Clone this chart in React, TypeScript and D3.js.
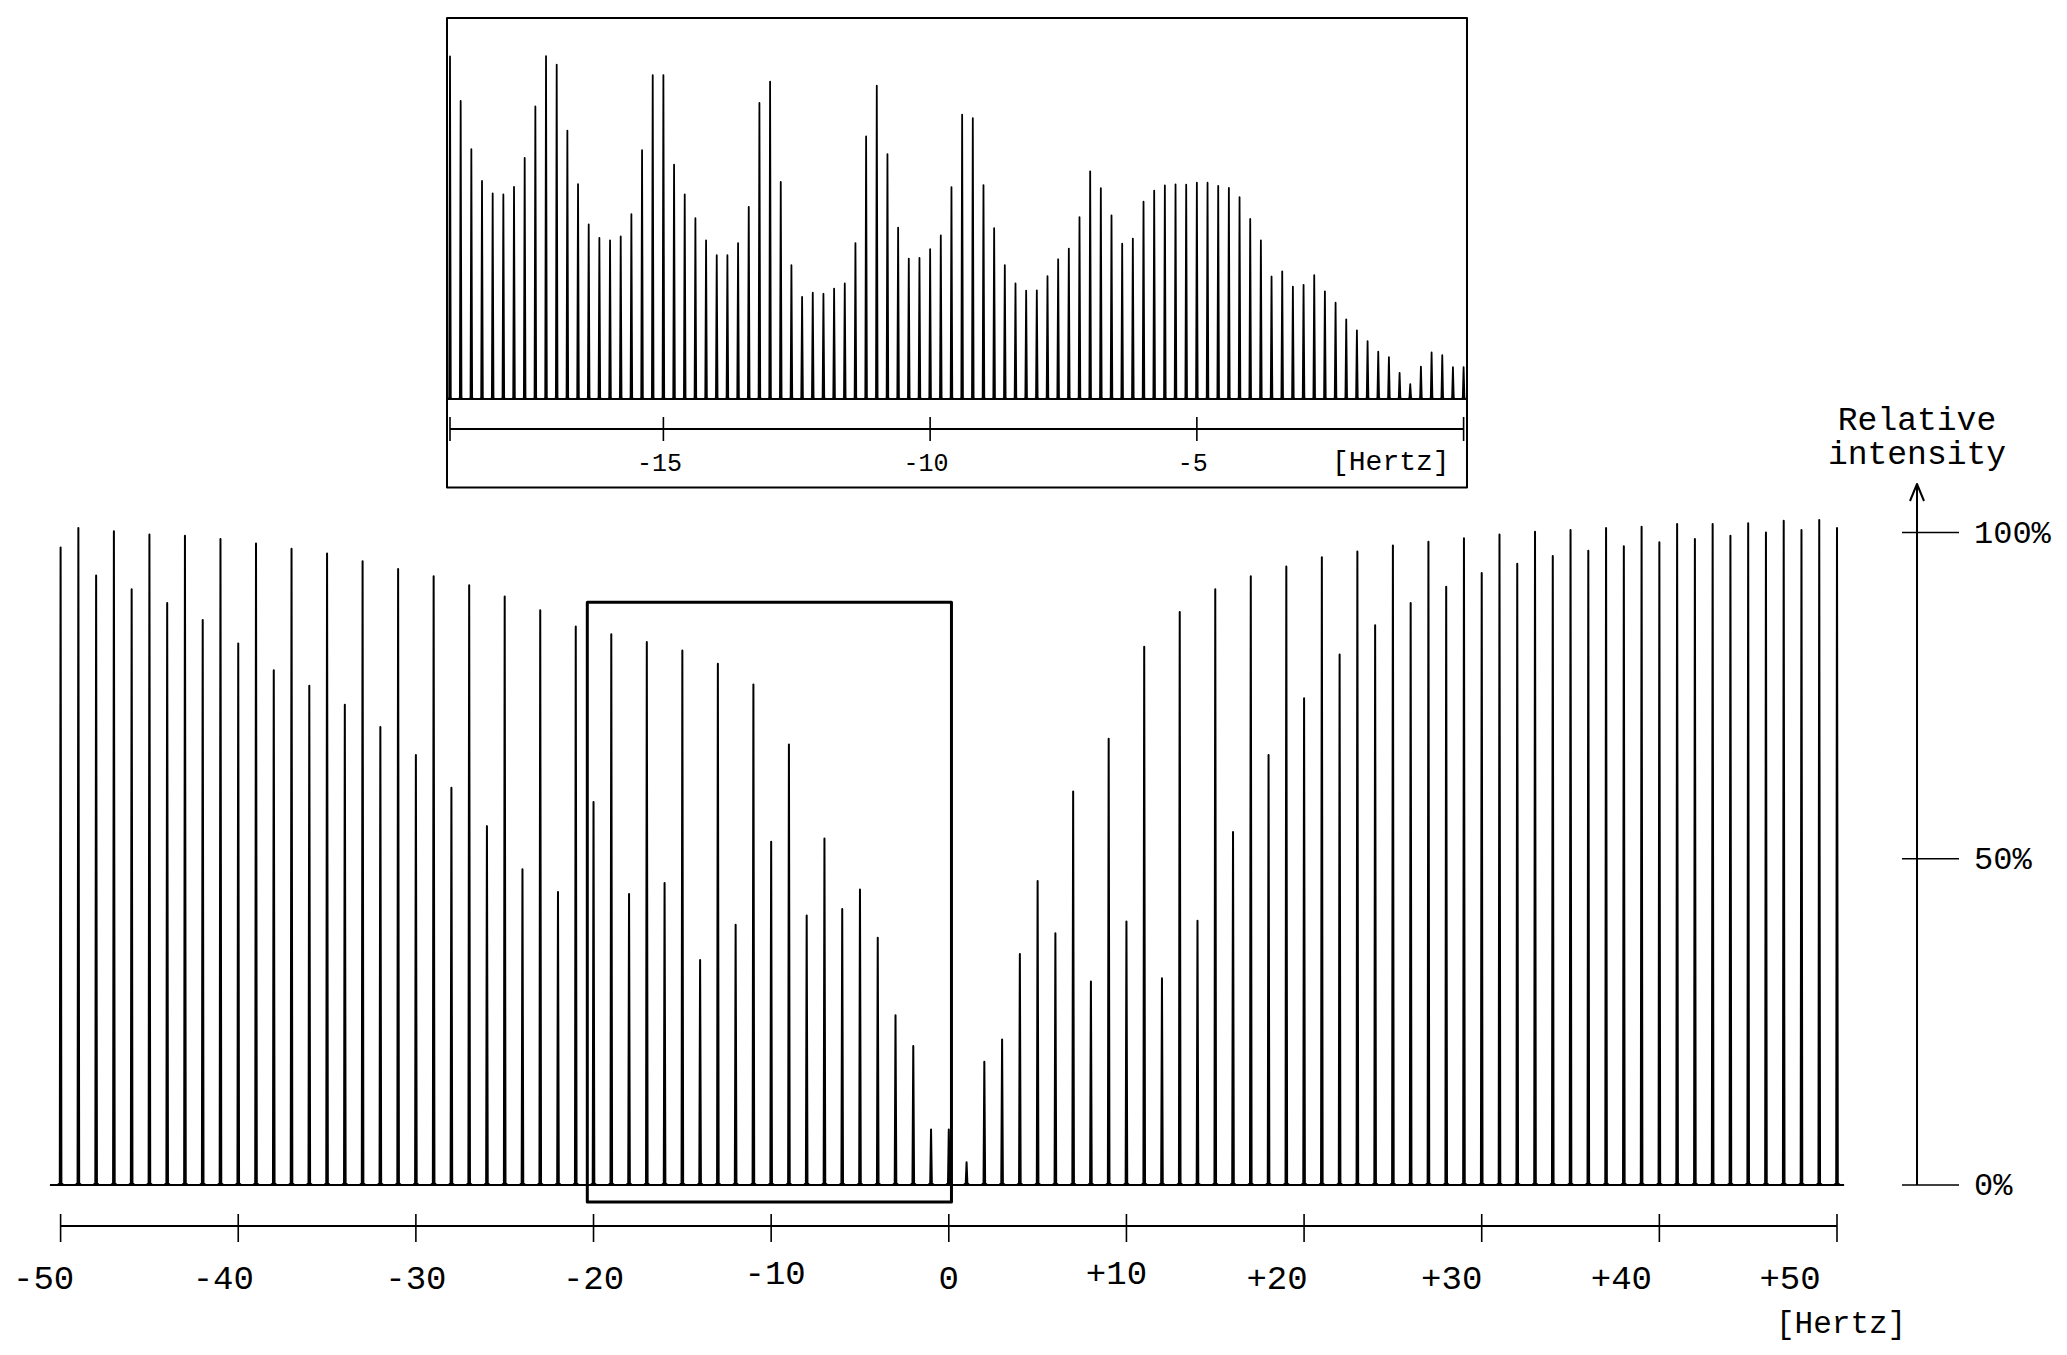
import React from 'react';
import * as d3 from 'd3';

// main spectrum: one line per Hz from -50 to +50, relative intensity in %
const mainFreqs = d3.range(-50, 51);
const mainIntensity = [
  97.7, 100.7, 93.4, 100.2, 91.3, 99.7, 89.2, 99.5, 86.6, 99.0, 83.0, 98.3, 78.9,
  97.5, 76.5, 96.8, 73.6, 95.6, 70.2, 94.4, 65.9, 93.3, 60.9, 91.9, 55.0, 90.2,
  48.4, 88.1, 44.9, 85.6, 58.7, 84.4, 44.6, 83.2, 46.3, 81.9, 34.5, 79.9, 39.9,
  76.7, 52.6, 67.5, 41.3, 53.1, 42.3, 45.3, 37.9, 26.0, 21.3, 8.5, 8.5,
  3.5, 18.9, 22.3, 35.4, 46.6, 38.6, 60.3, 31.2, 68.4, 40.4, 82.5, 31.7, 87.8,
  40.5, 91.3, 54.1, 93.3, 65.9, 94.8, 74.6, 96.2, 81.3, 97.1, 85.8, 98.0,
  89.2, 98.6, 91.7, 99.1, 93.8, 99.7, 95.2, 100.1, 96.4, 100.4, 97.2, 100.7,
  97.9, 100.9, 98.5, 101.3, 99.0, 101.3, 99.5, 101.4, 100.0, 101.8, 100.4, 101.9, 100.7,
];

// zoomed inset: lines every 0.2 Hz from -19 to 0
const insetFreqs = d3.range(0, 96).map((i) => -19 + i * 0.2);
const insetIntensity = [
  99.3, 86.4, 72.4, 63.2, 59.6, 59.3, 61.5, 69.9, 84.8, 99.4, 96.9, 77.8, 62.3,
  50.6, 46.7, 46.0, 47.1, 53.6, 72.1, 93.9, 93.9, 67.9, 59.3, 52.4, 46.0, 41.7,
  41.7, 45.2, 55.7, 85.8, 92.0, 62.9,
  38.8, 29.6, 30.8, 30.5, 32.0, 33.5, 45.2, 76.1, 90.8, 71.0, 49.7, 40.7, 40.9,
  43.4, 47.4, 61.4, 82.4, 81.4, 62.0, 49.5, 38.8, 33.5, 31.4, 31.5, 35.6, 40.5,
  43.6, 52.7, 66.0, 61.1, 53.2, 45.0,
  46.5, 57.2, 60.4, 61.9, 62.2, 62.1, 62.7, 62.7, 61.8, 61.2, 58.5, 52.2, 46.0,
  35.5, 37.0, 32.6, 33.1, 35.9, 31.2, 27.9, 23.1, 19.9, 16.8, 13.7, 12.1, 7.6,
  4.3, 9.4, 13.5, 12.7, 9.2, 9.2,
];

const mainTicks = [-50, -40, -30, -20, -10, 0, 10, 20, 30, 40, 50];
const insetTicks = [-19, -15, -10, -5, 0];
const insetTickLabels = [-15, -10, -5];
const yTicks = [0, 50, 100];
const zoomRange = [-20.35, 0.15];
const zoomTop = 89.3;

// label placement quirks of the original drawing
const labelShift: Record<string, number> = {
  '-50': -17, '-40': -15, '-30': 0, '-20': 0, '-10': 4, '0': 0,
  '10': -10, '20': -27, '30': -30, '40': -38, '50': -47,
};

const FONT = '"Liberation Mono", "Courier New", monospace';

// thin line with a small foot, like a sharp resonance peak
const spikePath = (x: number, base: number, top: number, foot: number) =>
  d3.line()([
    [x - foot, base],
    [x - 0.8, base - foot * 0.6],
    [x, top],
    [x + 0.8, base - foot * 0.6],
    [x + foot, base],
  ]) as string;

export default function App() {
  const x = d3.scaleLinear().domain([-50, 50]).range([60.6, 1837]);
  const y = d3.scaleLinear().domain([0, 100]).range([1185, 532.5]);
  const xi = d3.scaleLinear().domain([-19, 0]).range([450, 1463.6]);
  const yi = d3.scaleLinear().domain([0, 100]).range([399, 54]);

  const axisY = 1226;
  const yAxisX = 1917;
  const fmt = (d: number) => (d > 0 ? `+${d}` : `${d}`);

  return (
    <>
      <style>{`body{margin:0}`}</style>
      <svg width={2067} height={1355} style={{ display: 'block', background: '#fff' }}>
        <g fill="none" stroke="#000" strokeLinejoin="round">
          {/* main baseline + lines */}
          <line x1={x(-50.6)} x2={x(50.4)} y1={y(0)} y2={y(0)} strokeWidth={2} />
          {mainFreqs.map((f, i) => (
            <path key={f} d={spikePath(x(f), y(0), y(mainIntensity[i]), 3)} strokeWidth={2} />
          ))}

          {/* zoom region box */}
          <rect
            x={x(zoomRange[0])}
            y={y(zoomTop)}
            width={x(zoomRange[1]) - x(zoomRange[0])}
            height={1202 - y(zoomTop)}
            strokeWidth={3}
          />

          {/* main frequency axis */}
          <line x1={x(-50)} x2={x(50)} y1={axisY} y2={axisY} strokeWidth={2} />
          {mainTicks.map((t) => (
            <line key={t} x1={x(t)} x2={x(t)} y1={axisY - 12} y2={axisY + 16} strokeWidth={1.6} />
          ))}

          {/* intensity axis with arrow */}
          <line x1={yAxisX} x2={yAxisX} y1={y(0)} y2={484} strokeWidth={2} />
          <polyline points={`${yAxisX - 7},${501} ${yAxisX},${484} ${yAxisX + 7},${501}`} strokeWidth={2} />
          {yTicks.map((t) => (
            <line key={t} x1={yAxisX - 15} x2={yAxisX + 42} y1={y(t)} y2={y(t)} strokeWidth={1.6} />
          ))}

          {/* inset */}
          <rect x={447} y={18} width={1020} height={469.5} strokeWidth={2} />
          <line x1={447} x2={1467} y1={yi(0)} y2={yi(0)} strokeWidth={2} />
          {insetFreqs.map((f, i) => (
            <path key={i} d={spikePath(xi(f), yi(0), yi(insetIntensity[i]), 2)} strokeWidth={1.8} />
          ))}
          <line x1={xi(-19)} x2={xi(0)} y1={429} y2={429} strokeWidth={2} />
          {insetTicks.map((t) => (
            <line key={t} x1={xi(t)} x2={xi(t)} y1={417} y2={441} strokeWidth={1.6} />
          ))}
        </g>

        <g fontFamily={FONT} fill="#000">
          {mainTicks.map((t) => (
            <text
              key={t}
              x={x(t) + labelShift[String(t)]}
              y={Math.abs(t) === 10 ? 1284 : 1289}
              textAnchor="middle"
              fontSize={34}
            >
              {fmt(t)}
            </text>
          ))}
          <text x={1776} y={1333} fontSize={31}>[Hertz]</text>

          {yTicks.map((t) => (
            <text key={t} x={1974} y={y(t) + 10} fontSize={32}>
              {t}%
            </text>
          ))}
          <text x={yAxisX} y={430} textAnchor="middle" fontSize={33}>Relative</text>
          <text x={yAxisX} y={464} textAnchor="middle" fontSize={33}>intensity</text>

          {insetTickLabels.map((t) => (
            <text key={t} x={xi(t) - 4} y={471} textAnchor="middle" fontSize={25}>
              {t}
            </text>
          ))}
          <text x={1332} y={470} fontSize={28}>[Hertz]</text>
        </g>
      </svg>
    </>
  );
}
